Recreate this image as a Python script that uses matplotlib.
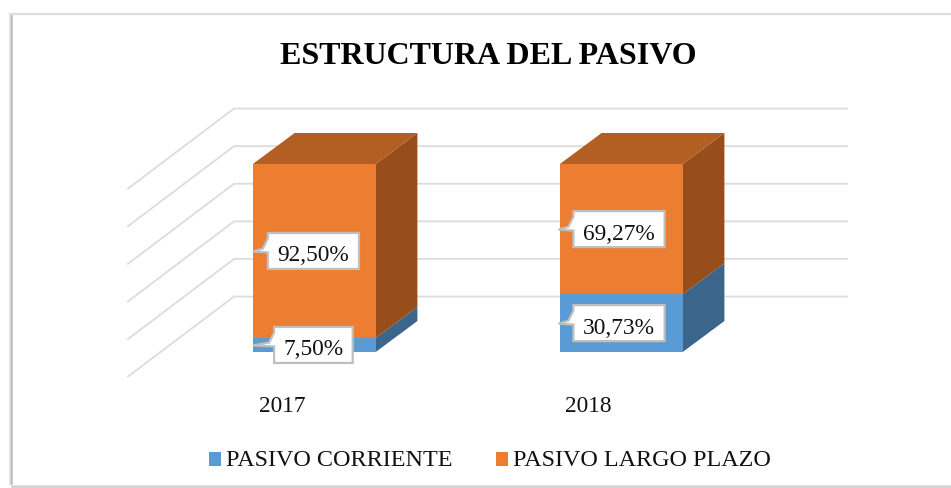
import matplotlib
matplotlib.use("Agg")
import matplotlib.pyplot as plt
from matplotlib.patches import Polygon
from matplotlib.transforms import Affine2D, ScaledTranslation

years = ["2017", "2018"]
pasivo_corriente = [7.50, 30.73]
pasivo_largo_plazo = [92.50, 69.27]
series_names = ["PASIVO CORRIENTE", "PASIVO LARGO PLAZO"]
grid_values = [0, 20, 40, 60, 80, 100]
title = "ESTRUCTURA DEL PASIVO"

W, H = 951, 488
X0, XU = 314.3, 307.0
Y0, YU = 352.0, 1.88
bar_w = 0.40
dep_x, dep_y = 41.7 / XU, 31.0 / YU
C_FRONT = ["#5B9BD5", "#ED7D31"]
C_TOP = ["#4A7EAD", "#B35E23"]
C_SIDE = ["#3B658B", "#984E1B"]
GRID = "#DCDCDC"
SERIF = "Liberation Serif"

fig = plt.figure(figsize=(W / 100, H / 100), dpi=100, facecolor="white")
ax = fig.add_axes([0, 0, 1, 1])
ax.set_xlim(-X0 / XU, (W - X0) / XU)
ax.set_ylim(-(H - Y0) / YU, Y0 / YU)
ax.patch.set_visible(False)
for s in ("left", "right", "top"):
    ax.spines[s].set_visible(False)
ax.yaxis.set_visible(False)

# chart-area frame with soft shadow on the left and the bottom
for i, (c, lw) in enumerate([("#E4E4E4", 1.2), ("#CFCFCF", 1.2), ("#BDBDBD", 1.2)]):
    fig.add_artist(plt.Line2D([(10 + i * 1.1) / W] * 2, [1 - 14 / H, 4 / H], color=c, lw=lw))
fig.add_artist(plt.Line2D([10 / W, 1], [1 - 13.5 / H, 1 - 13.5 / H], color="#DEDEDE", lw=1.6))
fig.add_artist(plt.Line2D([12 / W, 1], [2.5 / H, 2.5 / H], color="#E2E2E2", lw=1.5))
fig.add_artist(plt.Line2D([12 / W, 1], [1.2 / H, 1.2 / H], color="#CFCFCF", lw=1.2))

# 3-D walls (gridlines)
wall_x_front, wall_x_back, wall_x_end = -0.607, -0.2615, 1.735
floor_front, floor_back = -13.1, 29.5
for v in grid_values:
    ax.plot([wall_x_front, wall_x_back, wall_x_end],
            [v + floor_front, v + floor_back, v + floor_back],
            color=GRID, lw=1.3, zorder=1, solid_joinstyle="miter")

# stacked 3-D bars
xs = list(range(len(years)))
handles = []
bottoms = [0.0] * len(xs)
for k, vals in enumerate([pasivo_corriente, pasivo_largo_plazo]):
    bars = ax.bar(xs, vals, bar_w, bottom=bottoms, color=C_FRONT[k], zorder=4, label=series_names[k])
    handles.append(bars)
    for x, b, v in zip(xs, bottoms, vals):
        r = x + bar_w / 2
        ax.add_patch(Polygon([(r, b), (r + dep_x, b + dep_y), (r + dep_x, b + v + dep_y), (r, b + v)],
                             closed=True, fc=C_SIDE[k], ec="none", zorder=3))
        if k == 1:
            l = x - bar_w / 2
            ax.add_patch(Polygon([(l, b + v), (l + dep_x, b + v + dep_y), (r + dep_x, b + v + dep_y), (r, b + v)],
                                 closed=True, fc=C_TOP[k], ec="none", zorder=3))
    bottoms = [b + v for b, v in zip(bottoms, vals)]

# callout data labels
def callout(x, y, txt, hw, hh, dx, tip):
    px = [(-hw, hh), (hw, hh), (hw, -hh), (-hw, -hh), (-hw, -1.5), (-hw - tip, -0.5), (-hw - 5, 2.5),
          (-hw, hh - 5.5)]
    tr = Affine2D().translate(dx, 0) + ScaledTranslation(x, y, ax.transData)
    ax.add_patch(Polygon(px, closed=True, fc="white", ec="#BFBFBF", lw=1.6, transform=tr, zorder=6,
                         joinstyle="miter"))
    ax.text(0, -2.5, txt, transform=tr, ha="center", va="center_baseline", family=SERIF, fontsize=16.8,
            color="#111111", zorder=7)

bottoms = [0.0] * len(xs)
for vals in [pasivo_corriente, pasivo_largo_plazo]:
    for x, b, v in zip(xs, bottoms, vals):
        txt = f"{v:.2f}%".replace(".", ",")
        hw = 39.3 if v < 10 else 45.6
        dx = -0.9 if x == 0 else -2.3
        tip = 60 - hw + 0.5
        callout(x, b + v / 2, txt, hw, 18, dx, tip)
    bottoms = [b + v for b, v in zip(bottoms, vals)]

# category axis
ax.spines["bottom"].set_visible(False)
ax.spines["bottom"].set_position(("data", (Y0 - 396) / YU))
ax.set_xticks([x - 32.5 / XU for x in xs])
ax.set_xticklabels(years, family=SERIF, fontsize=16.8, color="#111111")
ax.tick_params(axis="x", length=0, pad=0)

# title and legend
ax.text((488 - X0) / XU, (Y0 - 56.5) / YU, title, ha="center", va="center", family=SERIF,
        fontweight="bold", fontsize=23.05, color="black")
leg = ax.legend(handles, series_names, loc="center", bbox_to_anchor=(490 / W, 1 - 460 / H), ncol=2,
                frameon=False, prop={"family": SERIF, "size": 17.35}, handlelength=0.5, handleheight=0.5,
                handletextpad=0.21, columnspacing=1.79, labelcolor="#111111", borderpad=0, borderaxespad=0)
for p in leg.get_patches():
    p.set_y(p.get_y() - 1.5)

fig.savefig("out.png", dpi=100)
